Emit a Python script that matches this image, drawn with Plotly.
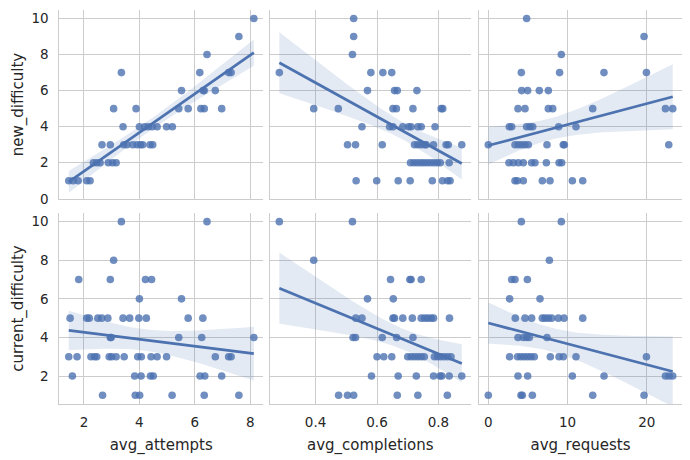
import numpy as np
import plotly.graph_objects as go

# ---- data ----
# top-left: new_difficulty vs avg_attempts
att_new_x = [8.13, 7.59, 6.44,
             3.35, 6.18, 7.22, 7.31,
             5.52, 6.30, 6.34, 6.74,
             3.07, 3.88, 5.42, 5.76, 6.22, 6.34, 6.97,
             3.41, 4.00, 4.19, 4.32, 4.46, 4.64, 4.98, 5.19,
             2.65, 2.95, 3.43, 3.55, 3.76, 3.92, 4.04, 4.12, 4.38, 4.48,
             2.34, 2.46, 2.58, 2.88, 3.03, 3.16,
             1.45, 1.61, 1.79, 2.10, 2.22]
att_new_y = [10, 9, 8,
             7, 7, 7, 7,
             6, 6, 6, 6,
             5, 5, 5, 5, 5, 5, 5,
             4, 4, 4, 4, 4, 4, 4, 4,
             3, 3, 3, 3, 3, 3, 3, 3, 3, 3,
             2, 2, 2, 2, 2, 2,
             1, 1, 1, 1, 1]

# top-middle: new_difficulty vs avg_completions
com_new_x = [0.524, 0.524, 0.520,
             0.282, 0.580, 0.619, 0.648,
             0.569, 0.657, 0.666, 0.730,
             0.394, 0.474, 0.652, 0.663, 0.717, 0.809, 0.814,
             0.551, 0.641, 0.652, 0.684, 0.703, 0.711, 0.733, 0.744, 0.789,
             0.504, 0.530, 0.617, 0.722, 0.733, 0.744, 0.755, 0.760, 0.784, 0.825, 0.832, 0.876,
             0.709, 0.720, 0.731, 0.742, 0.752, 0.763, 0.774, 0.785, 0.796, 0.806, 0.835,
             0.532, 0.599, 0.669, 0.708, 0.780, 0.813, 0.830, 0.838]
com_new_y = [10, 9, 8,
             7, 7, 7, 7,
             6, 6, 6, 6,
             5, 5, 5, 5, 5, 5, 5,
             4, 4, 4, 4, 4, 4, 4, 4, 4,
             3, 3, 3, 3, 3, 3, 3, 3, 3, 3, 3, 3,
             2, 2, 2, 2, 2, 2, 2, 2, 2, 2, 2,
             1, 1, 1, 1, 1, 1, 1, 1]

# top-right: new_difficulty vs avg_requests
req_new_x = [4.84, 19.66, 9.22,
             4.17, 9.00, 14.60, 19.96,
             4.21, 4.97, 6.44, 7.58,
             3.75, 4.63, 7.58, 8.13, 13.18, 22.36, 23.28,
             2.65, 2.95, 4.84, 5.26, 5.60, 8.88, 11.07,
             0.00, 3.37, 3.79, 4.21, 4.63, 5.05, 7.41, 9.47, 9.60, 22.78,
             2.61, 3.16, 3.79, 4.42, 5.47, 5.89, 7.33, 8.93, 9.26,
             3.37, 3.66, 4.42, 6.82, 7.79, 10.61, 11.92]
req_new_y = [10, 9, 8,
             7, 7, 7, 7,
             6, 6, 6, 6,
             5, 5, 5, 5, 5, 5, 5,
             4, 4, 4, 4, 4, 4, 4,
             3, 3, 3, 3, 3, 3, 3, 3, 3, 3,
             2, 2, 2, 2, 2, 2, 2, 2, 2,
             1, 1, 1, 1, 1, 1, 1]

# bottom-left: current_difficulty vs avg_attempts
att_cur_x = [3.35, 6.44,
             3.07,
             1.81, 2.95, 4.22, 4.44,
             4.00, 5.52,
             1.50, 2.10, 2.19, 2.50, 2.64, 2.86, 3.41, 3.65, 3.98, 4.25, 5.76, 6.29,
             2.95, 2.98, 5.42, 6.25, 8.13,
             1.45, 1.75, 2.25, 2.38, 2.46, 2.91, 3.00, 3.16, 3.45, 3.94, 4.07, 4.42, 4.64, 4.98, 6.74, 7.22, 7.31,
             1.58, 3.83, 4.06, 4.40, 4.50, 6.19, 6.36, 6.97,
             2.67, 3.85, 4.01, 5.18, 6.34, 7.59]
att_cur_y = [10, 10,
             8,
             7, 7, 7, 7,
             6, 6,
             5, 5, 5, 5, 5, 5, 5, 5, 5, 5, 5, 5,
             4, 4, 4, 4, 4,
             3, 3, 3, 3, 3, 3, 3, 3, 3, 3, 3, 3, 3, 3, 3, 3, 3,
             2, 2, 2, 2, 2, 2, 2, 2,
             1, 1, 1, 1, 1, 1]

# bottom-middle: current_difficulty vs avg_completions
com_cur_x = [0.282, 0.520,
             0.394,
             0.644, 0.707, 0.711, 0.744,
             0.569, 0.653,
             0.531, 0.551, 0.652, 0.657, 0.684, 0.715, 0.744, 0.755, 0.765, 0.776, 0.784, 0.836,
             0.522, 0.530, 0.617, 0.664, 0.717,
             0.600, 0.622, 0.648, 0.700, 0.711, 0.722, 0.733, 0.744, 0.754, 0.787, 0.798, 0.808, 0.819, 0.830, 0.841,
             0.582, 0.669, 0.728, 0.784, 0.805, 0.811, 0.835, 0.876,
             0.475, 0.504, 0.524, 0.666, 0.733, 0.829]
com_cur_y = [10, 10,
             8,
             7, 7, 7, 7,
             6, 6,
             5, 5, 5, 5, 5, 5, 5, 5, 5, 5, 5, 5,
             4, 4, 4, 4, 4,
             3, 3, 3, 3, 3, 3, 3, 3, 3, 3, 3, 3, 3, 3, 3,
             2, 2, 2, 2, 2, 2, 2, 2,
             1, 1, 1, 1, 1, 1]

# bottom-right: current_difficulty vs avg_requests
req_cur_x = [4.17, 9.22,
             7.71,
             2.95, 3.37, 4.93,
             2.69, 6.53,
             3.41, 4.63, 5.47, 6.82, 7.16, 7.58, 8.00, 8.84, 9.56, 11.92,
             3.75, 4.42, 4.84, 5.18, 7.41,
             2.69, 3.70, 4.13, 4.55, 4.97, 5.39, 5.81, 7.83, 8.93, 9.47, 11.07, 19.96,
             3.75, 4.97, 10.61, 14.61, 22.36, 22.82, 23.28,
             0.00, 4.13, 4.29, 5.56, 13.18, 19.66]
req_cur_y = [10, 10,
             8,
             7, 7, 7,
             6, 6,
             5, 5, 5, 5, 5, 5, 5, 5, 5, 5,
             4, 4, 4, 4, 4,
             3, 3, 3, 3, 3, 3, 3, 3, 3, 3, 3, 3,
             2, 2, 2, 2, 2, 2, 2,
             1, 1, 1, 1, 1, 1]

x_names = ["avg_attempts", "avg_completions", "avg_requests"]
y_names = ["new_difficulty", "current_difficulty"]
x_ticks = [[2, 4, 6, 8], [0.4, 0.6, 0.8], [0, 10, 20]]
x_ticktext = [["2", "4", "6", "8"], ["0.4", "0.6", "0.8"], ["0", "10", "20"]]
y_ticks = [[0, 2, 4, 6, 8, 10], [2, 4, 6, 8, 10]]

panels = [
    (att_new_x, att_new_y, 1, 1), (com_new_x, com_new_y, 1, 2), (req_new_x, req_new_y, 1, 3),
    (att_cur_x, att_cur_y, 2, 1), (com_cur_x, com_cur_y, 2, 2), (req_cur_x, req_cur_y, 2, 3),
]

# ---- styling ----
BLUE = "#4C72B0"
FONT = "DejaVu Sans"
GRID = "#cccccc"
TXT = "#262626"
x_dom = [[0.0008, 0.3274], [0.3379, 0.6613], [0.6742, 1.0]]
y_dom = [[0.5203, 1.0], [0.0, 0.4848]]
x_rng = [[1.116, 8.46], [0.25, 0.906], [-1.17, 24.45]]
y_rng = [[-0.01, 10.47], [0.55, 10.45]]


def regression(x, y):
    x = np.asarray(x, float)
    y = np.asarray(y, float)
    n = len(x)
    b, a = np.polyfit(x, y, 1)
    xs = np.linspace(x.min(), x.max(), 100)
    yh = a + b * xs
    s = np.sqrt(np.sum((y - (a + b * x)) ** 2) / (n - 2))
    se = s * np.sqrt(1.0 / n + (xs - x.mean()) ** 2 / np.sum((x - x.mean()) ** 2))
    return xs, yh, 1.99 * se


fig = go.Figure()
for (px, py, r, c) in panels:
    k = (r - 1) * 3 + c
    xa = "x" if k == 1 else f"x{k}"
    ya = "y" if k == 1 else f"y{k}"
    xs, yh, ci = regression(px, py)
    fig.add_trace(go.Scatter(
        x=np.concatenate([xs, xs[::-1]]), y=np.concatenate([yh + ci, (yh - ci)[::-1]]),
        fill="toself", fillcolor="rgba(76,114,176,0.15)", line=dict(width=0),
        mode="lines", hoverinfo="skip", showlegend=False, xaxis=xa, yaxis=ya))
    fig.add_trace(go.Scatter(
        x=px, y=py, mode="markers",
        marker=dict(color=BLUE, opacity=0.8, size=7.6, line=dict(width=0)),
        showlegend=False, xaxis=xa, yaxis=ya))
    fig.add_trace(go.Scatter(
        x=xs, y=yh, mode="lines", line=dict(color=BLUE, width=2.7),
        showlegend=False, xaxis=xa, yaxis=ya))

    xkey = "xaxis" if k == 1 else f"xaxis{k}"
    ykey = "yaxis" if k == 1 else f"yaxis{k}"
    fig.layout[xkey] = dict(
        domain=x_dom[c - 1], anchor=ya, range=x_rng[c - 1],
        tickvals=x_ticks[c - 1], ticktext=x_ticktext[c - 1],
        showticklabels=(r == 2), showgrid=True, gridcolor=GRID, gridwidth=1,
        showline=True, linecolor=GRID, linewidth=1.3, zeroline=False, ticks="",
        tickfont=dict(family=FONT, size=13.5, color=TXT), ticklabelstandoff=6,
        title=dict(text=x_names[c - 1] if r == 2 else "",
                   font=dict(family=FONT, size=15, color=TXT), standoff=10),
    )
    fig.layout[ykey] = dict(
        domain=y_dom[r - 1], anchor=xa, range=y_rng[r - 1],
        tickvals=y_ticks[r - 1], showticklabels=(c == 1),
        showgrid=True, gridcolor=GRID, gridwidth=1,
        showline=True, linecolor=GRID, linewidth=1.3, zeroline=False, ticks="",
        tickfont=dict(family=FONT, size=13.5, color=TXT), ticklabelstandoff=7,
        title=dict(text=y_names[r - 1] if c == 1 else "",
                   font=dict(family=FONT, size=15, color=TXT), standoff=4),
    )

fig.update_layout(
    width=690, height=460,
    margin=dict(l=59, r=8, t=10, b=56),
    paper_bgcolor="white", plot_bgcolor="white",
    font=dict(family=FONT, color=TXT),
)
fig.write_html("out.html", config={"displayModeBar": False},
               post_script="document.body.style.margin='0';")
